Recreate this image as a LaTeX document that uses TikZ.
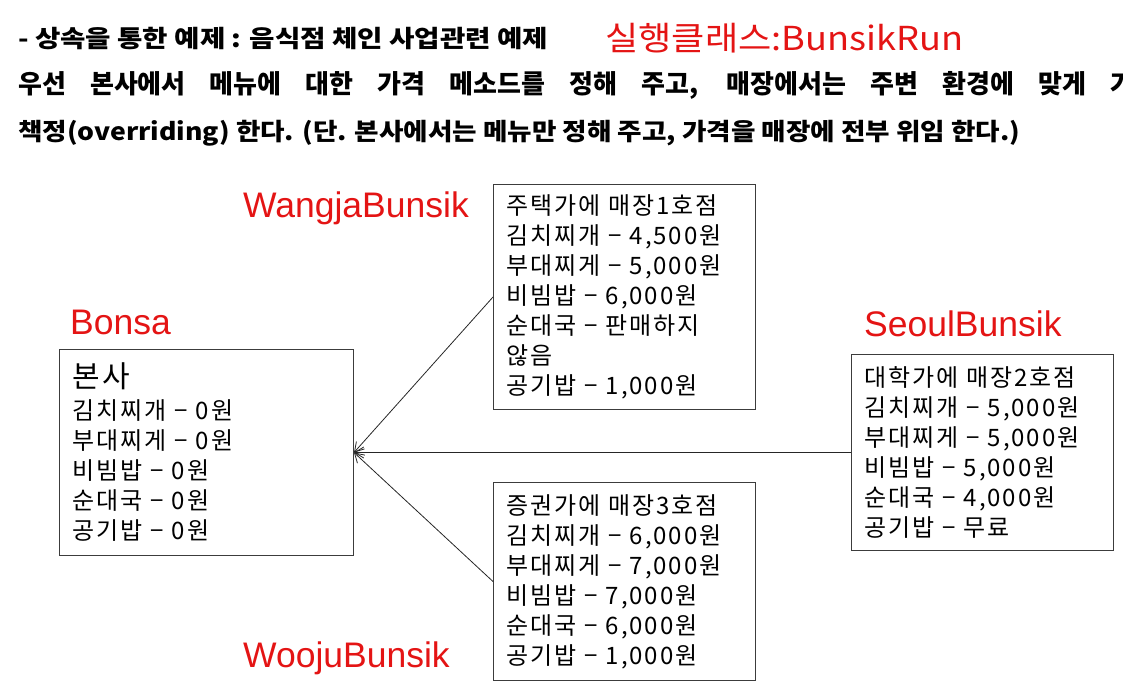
\documentclass[tikz,border=0pt]{standalone}
\usepackage{fontspec}
\usepackage{graphicx}
\setmainfont{Liberation Sans}
\newfontfamily\kr{Noto Sans CJK KR}
\newfontfamily\krbox{Noto Sans CJK KR}[LetterSpace=8]
\usetikzlibrary{arrows.meta}
\definecolor{lblred}{RGB}{228,20,20}
\definecolor{boxgray}{RGB}{60,60,60}
\newcommand\fitw[2]{\resizebox{#1}{\height}{#2}}
\begin{document}
\begin{tikzpicture}[x=1pt,y=-1pt,
  hdr/.style={anchor=base west, inner sep=0pt, font=\kr\bfseries\fontsize{24}{28}\selectfont},
  lbl/.style={anchor=base west, inner sep=0pt, text=lblred, font=\fontsize{35.5}{40}\selectfont},
  menubox/.style={draw=boxgray, line width=1pt, anchor=north west, inner xsep=13pt, inner ysep=0pt,
    align=left, font=\krbox\fontsize{24}{30}\selectfont},
  conn/.style={draw=black!85, line width=0.8pt, -{Straight Barb[length=9pt,width=11pt]}}
]
\useasboundingbox (0,0) rectangle (1123,689);

% header
\node[hdr] (h1) at (18,47) {\fitw{530pt}{- 상속을 통한 예제 : 음식점 체인 사업관련 예제}};
\node[anchor=base west, inner sep=0pt, text=lblred, font=\kr\fontsize{33}{36}\selectfont] (title) at (605,50) {\fitw{358pt}{실행클래스:BunsikRun}};
\node[hdr, font=\kr\bfseries\fontsize{26}{28}\selectfont] (h2) at (18,93) {\makebox[1116pt][s]{우선 본사에서 메뉴에 대한 가격 메소드를 정해 주고, 매장에서는 주변 환경에 맞게 가}};
\node[hdr] (h3) at (18,140) {\fitw{1002pt}{책정(overriding) 한다. (단. 본사에서는 메뉴만 정해 주고, 가격을 매장에 전부 위임 한다.)}};

% class labels
\node[lbl] (lbonsa) at (70,334) {Bonsa};
\node[lbl] (lwangja) at (243,217) {WangjaBunsik};
\node[lbl] (lseoul) at (864,336) {SeoulBunsik};
\node[lbl] (lwooju) at (243,667) {WoojuBunsik};

% boxes
\node[menubox, minimum width=294pt, minimum height=206pt, text width=268pt] (bonsa) at (59,349)
  {{\fontsize{30}{30}\selectfont 본사}\\[2pt]
   김치찌개 − 0원\\ 부대찌게 − 0원\\ 비빔밥 − 0원\\ 순대국 − 0원\\ 공기밥 − 0원};
\node[menubox, minimum width=262pt, minimum height=225pt, text width=236pt] (wangja) at (493,184)
  {주택가에 매장1호점\\ 김치찌개 − 4,500원\\ 부대찌게 − 5,000원\\ 비빔밥 − 6,000원\\ 순대국 − 판매하지\\ 않음\\ 공기밥 − 1,000원};
\node[menubox, minimum width=262pt, minimum height=196pt, text width=236pt] (seoul) at (851,354)
  {대학가에 매장2호점\\ 김치찌개 − 5,000원\\ 부대찌게 − 5,000원\\ 비빔밥 − 5,000원\\ 순대국 − 4,000원\\ 공기밥 − 무료};
\node[menubox, minimum width=262pt, minimum height=198pt, text width=236pt] (wooju) at (493,482)
  {증권가에 매장3호점\\ 김치찌개 − 6,000원\\ 부대찌게 − 7,000원\\ 비빔밥 − 7,000원\\ 순대국 − 6,000원\\ 공기밥 − 1,000원};

% connectors
\draw[conn] (wangja.west) -- (bonsa.east);
\draw[conn] (seoul.west) -- (bonsa.east);
\draw[conn] (wooju.west) -- (bonsa.east);
\end{tikzpicture}
\end{document}
